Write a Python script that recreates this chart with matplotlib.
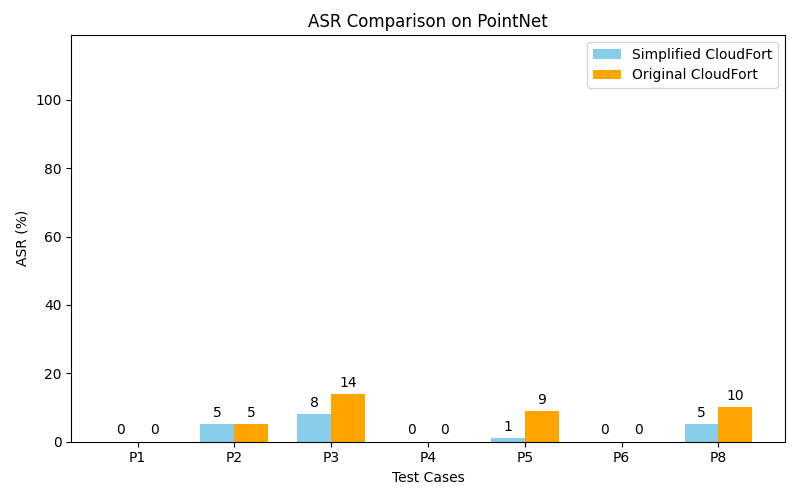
import matplotlib
matplotlib.use('Agg')
import matplotlib.pyplot as plt
import numpy as np

cases = ['P1', 'P2', 'P3', 'P4', 'P5', 'P6', 'P8']
simplified = [0, 5, 8, 0, 1, 0, 5]
original = [0, 5, 14, 0, 9, 0, 10]

x = np.arange(len(cases))
width = 0.35

fig, ax = plt.subplots(figsize=(8, 5), dpi=100)
bars1 = ax.bar(x - width / 2, simplified, width, label='Simplified CloudFort', color='skyblue')
bars2 = ax.bar(x + width / 2, original, width, label='Original CloudFort', color='orange')

ax.set_xlabel('Test Cases')
ax.set_ylabel('ASR (%)')
ax.set_title('ASR Comparison on PointNet')
ax.set_xticks(x)
ax.set_xticklabels(cases)
ax.set_ylim(0, 119)
ax.legend()

for bars in (bars1, bars2):
    for b in bars:
        h = b.get_height()
        ax.annotate(f'{h:.0f}', xy=(b.get_x() + b.get_width() / 2, h),
                    xytext=(0, 3), textcoords='offset points',
                    ha='center', va='bottom')

fig.subplots_adjust(left=0.089, right=0.981, bottom=0.117, top=0.93)
fig.savefig('out.png')
